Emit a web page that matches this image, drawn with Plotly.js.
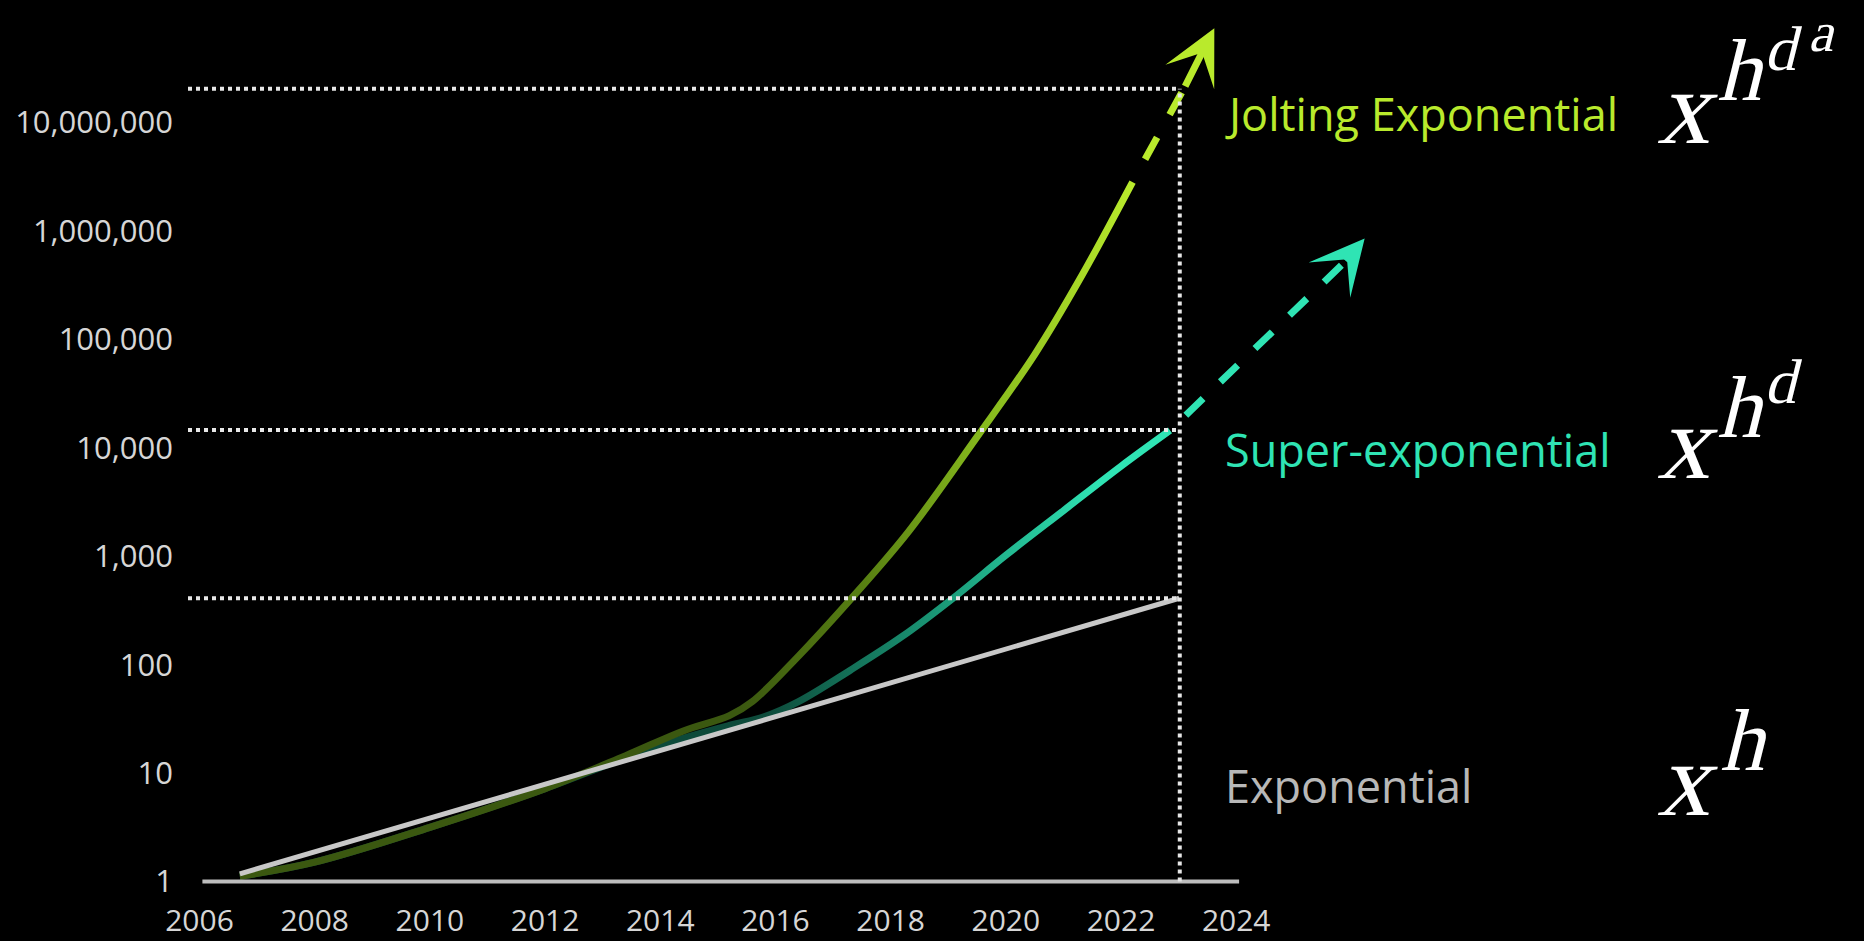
<!DOCTYPE html>
<html>
<head>
<meta charset="utf-8">
<script src="https://cdn.plot.ly/plotly-3.0.1.min.js"></script>
<style>
html,body{margin:0;padding:0;background:#000;}
#chart{width:1864px;height:941px;}
</style>
</head>
<body>
<div id="chart"></div>
<script>
// ---------- data ----------
const expYears = [2006.7, 2023.01];
const exponential = [1.18, 410];

const superYears = [2006.7, 2008, 2010, 2012, 2013.4, 2014.4, 2015.2, 2015.8, 2016.4, 2017.3, 2018.2, 2019.1, 2020.0, 2021.0, 2022.0, 2022.85];
const superExponential = [1.12, 1.51, 3.16, 7.2, 13.8, 20.9, 27.5, 33.1, 45.7, 89, 182, 417, 1020, 2630, 6760, 14450];

const joltYears = [2006.7, 2008, 2010, 2012, 2013.4, 2014.4, 2015.2, 2015.6, 2016.4, 2017.3, 2018.3, 2019.5, 2020.5, 2021.3, 2022.2];
const joltingExponential = [1.12, 1.51, 3.16, 7.2, 14.5, 24.5, 33.9, 45.7, 120, 398, 1660, 12600, 72400, 371500, 2820000];

// projections (dashed) : start, end of dashes, arrow tip
const joltProjYears = [2022.2, 2023.1, 2023.62];
const joltProjection = [2820000, 20900000, 74000000];
const superProjYears = [2022.85, 2025.88, 2026.23];
const superProjection = [14450, 513000, 851000];

// dotted reference guides
const refLevels = [410, 14600, 20400000];
const refStartYear = 2005.8;
const refYear = 2023.02;

const axisSpan = [2006.05, 2024.05];

const xTickVals = [2006, 2008, 2010, 2012, 2014, 2016, 2018, 2020, 2022, 2024];
const xTickText = ['2006', '2008', '2010', '2012', '2014', '2016', '2018', '2020', '2022', '2024'];
const yTickVals = [1, 10, 100, 1000, 10000, 100000, 1000000, 10000000];
const yTickText = ['1', '10', '100', '1,000', '10,000', '100,000', '1,000,000', '10,000,000'];

const seriesLabels = ['Jolting Exponential', 'Super-exponential', 'Exponential'];
// formula glyphs: x^{h^{d^a}}, x^{h^d}, x^h
const formulaGlyphs = [['x', 'h', 'd', 'a'], ['x', 'h', 'd'], ['x', 'h']];

// ---------- styling ----------
const W = 1864, H = 941;
const M = {l: 188, r: 455, t: 14, b: 54};
const PW = W - M.l - M.r, PH = H - M.t - M.b;
const px = v => (v - M.l) / PW;           // page pixel -> paper x
const py = v => (M.t + PH - v) / PH;      // page pixel -> paper y

const LIME = '#b9ea2c', TEAL = '#2fe4b4', GREY = '#c8c8c8';
const DOT = '#e6e6e6';

const traces = [];
traces.push({x: superYears, y: superExponential, mode: 'lines',
  line: {color: TEAL, width: 7, shape: 'spline', smoothing: 1}});
traces.push({x: superProjYears.slice(0, 2), y: superProjection.slice(0, 2), mode: 'lines',
  line: {color: TEAL, width: 7, dash: '0px,22px,24px,2px'}});
traces.push({x: joltYears, y: joltingExponential, mode: 'lines',
  line: {color: LIME, width: 7, shape: 'spline', smoothing: 1}});
traces.push({x: joltProjYears.slice(0, 2), y: joltProjection.slice(0, 2), mode: 'lines',
  line: {color: LIME, width: 7, dash: '0px,26px,25px,0px'}});
traces.push({x: expYears, y: exponential, mode: 'lines',
  line: {color: GREY, width: 5}});
traces.push({x: axisSpan, y: [1, 1], mode: 'lines', line: {color: '#bdbdbd', width: 4}});
refLevels.forEach(v => traces.push({x: [refStartYear, refYear], y: [v, v], mode: 'lines',
  line: {color: DOT, width: 4, dash: '4px,4px'}}));
traces.push({x: [refYear, refYear], y: [1, refLevels[2]], mode: 'lines',
  line: {color: DOT, width: 4, dash: '4px,4px'}});

const annotations = [];
function arrow(xs, ys, color) {
  annotations.push({xref: 'x', yref: 'y', axref: 'x', ayref: 'y',
    x: xs[2], y: Math.log10(ys[2]), ax: xs[1], ay: Math.log10(ys[1]),
    text: '', showarrow: true, arrowhead: 3, arrowsize: 1.3, arrowwidth: 7,
    arrowcolor: color, standoff: 0, startstandoff: 0});
}
arrow(joltProjYears, joltProjection, LIME);
arrow(superProjYears, superProjection, TEAL);

const labelY = [113, 449, 785];
const labelColors = [LIME, TEAL, '#b8b8b8'];
seriesLabels.forEach((t, i) => annotations.push({xref: 'paper', yref: 'paper',
  x: px(1223), y: py(labelY[i]), xanchor: 'left', yanchor: 'middle', showarrow: false,
  text: t, font: {family: 'Open Sans', size: 45, color: labelColors[i]}}));

// formulas: one annotation per glyph (Liberation Serif, slanted after drawing)
const SERIF_ASC = 0.891, SERIF_DESC = 0.216;
const glyphSize = [105, 88, 63, 56];
const glyphLeft = [[1656, 1716, 1763, 1807], [1656, 1716, 1763], [1656, 1719]];
const glyphBase = [[143, 100, 70, 51], [478, 437, 403], [815, 770]];
const mathIdx = [];
formulaGlyphs.forEach((glyphs, f) => glyphs.forEach((g, k) => {
  const s = glyphSize[k];
  const centre = glyphBase[f][k] - (SERIF_ASC - (SERIF_ASC + SERIF_DESC) / 2) * s;
  mathIdx.push(annotations.length);
  annotations.push({xref: 'paper', yref: 'paper', x: px(glyphLeft[f][k]), y: py(centre),
    xanchor: 'left', yanchor: 'middle', showarrow: false, text: g, borderpad: 0,
    font: {family: 'Liberation Serif', size: s, color: '#ffffff'}});
}));

const layout = {
  width: W, height: H,
  margin: M,
  paper_bgcolor: '#000', plot_bgcolor: '#000',
  showlegend: false,
  hovermode: false,
  font: {family: 'Open Sans', color: '#d6d6d6'},
  xaxis: {range: [2005.8, 2027.0], tickvals: xTickVals, ticktext: xTickText,
    showgrid: false, zeroline: false, showline: false, ticks: '',
    ticklabelstandoff: 13, tickfont: {family: 'Open Sans', size: 30, color: '#d6d6d6'}},
  yaxis: {type: 'log', range: [-0.05, 8.0], tickvals: yTickVals, ticktext: yTickText,
    showgrid: false, zeroline: false, showline: false, ticks: '',
    ticklabelstandoff: 14, tickfont: {family: 'Open Sans', size: 31, color: '#d6d6d6'}},
  annotations: annotations
};

Plotly.newPlot('chart', traces, layout, {staticPlot: true, displayModeBar: false}).then(gd => {
  const xa = gd._fullLayout.xaxis;
  const svg = gd.querySelector('svg.main-svg');
  const ns = 'http://www.w3.org/2000/svg';
  let defs = svg.querySelector('defs');
  if (!defs) { defs = document.createElementNS(ns, 'defs'); svg.insertBefore(defs, svg.firstChild); }
  function grad(id, stops) {
    const g = document.createElementNS(ns, 'linearGradient');
    g.setAttribute('id', id);
    g.setAttribute('gradientUnits', 'userSpaceOnUse');
    const x1 = xa.l2p(stops[0][0]), x2 = xa.l2p(stops[stops.length - 1][0]);
    g.setAttribute('x1', x1); g.setAttribute('x2', x2);
    g.setAttribute('y1', 0); g.setAttribute('y2', 0);
    stops.forEach(([yr, c]) => {
      const s = document.createElementNS(ns, 'stop');
      s.setAttribute('offset', (xa.l2p(yr) - x1) / (x2 - x1));
      s.setAttribute('stop-color', c);
      g.appendChild(s);
    });
    defs.appendChild(g);
  }
  grad('gradJolt', [[2015.4, '#3b5810'], [2017.5, '#577f12'], [2019.6, '#86b91d'], [2022.2, LIME]]);
  grad('gradSuper', [[2015.8, '#0d4a3a'], [2019.0, '#1b9c7a'], [2021.6, TEAL]]);
  const groups = gd.querySelectorAll('.scatterlayer .trace');
  const jl = groups[2] && groups[2].querySelector('path.js-line');
  const sl = groups[0] && groups[0].querySelector('path.js-line');
  if (jl) jl.style.stroke = 'url(#gradJolt)';
  if (sl) sl.style.stroke = 'url(#gradSuper)';

  // italic slant for the serif formula glyphs (no serif italic face installed)
  mathIdx.forEach(i => {
    const t = gd.querySelector('.annotation[data-index="' + i + '"] text.annotation-text');
    if (!t) return;
    const b = t.getBBox();
    const base = b.y + b.height * SERIF_ASC / (SERIF_ASC + SERIF_DESC);
    const cx = b.x;
    const prev = t.getAttribute('transform') || '';
    t.setAttribute('transform', prev + ' translate(' + cx + ',' + base + ') skewX(-14) translate(' + (-cx) + ',' + (-base) + ')');
  });
});
</script>
</body>
</html>
